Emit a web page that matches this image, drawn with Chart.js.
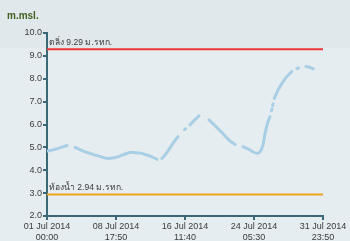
<!DOCTYPE html>
<html>
<head>
<meta charset="utf-8">
<script src="https://cdn.jsdelivr.net/npm/chart.js@4/dist/chart.umd.min.js"></script>
<style>
html,body{margin:0;padding:0;background:#e6edf0;}
#wrap{width:350px;height:241px;position:relative;}
</style>
</head>
<body>
<div id="wrap"><canvas id="levelChart" width="350" height="241"></canvas></div>
<script>
// hours since 01 Jul 2014 00:00, water level (m.msl.), null = no data
const hours = [0,13.5,27,40.4,53.9,64.7,
  75.5,94.3,115.9,137.4,161.7,180.6,196.7,212.9,223.7,237.2,250.6,264.1,277.5,296.4,301.8,
  309.9,320.7,331.5,342.3,353.0,361,
  370.6,373.3,378.6,
  385.4,396.2,409.6,423,
  436.6,447.4,458.2,471.6,482.4,493.2,506.7,517.4,
  528.2,541.7,555.2,566,574,582.1,587.5,595.6,601,603.5,
  605,606.5,607.2,608,609.2,610.5,
  612.6,622.5,633.3,644.1,659.5,667,
  673.8,677.8,687,
  698,708.8,717.7];
const level = [4.84,4.88,4.94,5.01,5.08,null,
  5.0,4.86,4.74,4.63,4.52,4.55,4.62,4.72,4.78,4.77,4.75,4.69,4.62,4.48,null,
  4.52,4.72,4.98,5.24,5.47,null,
  5.77,5.81,null,
  5.98,6.17,6.38,null,
  6.2,6.04,5.86,5.65,5.45,5.28,5.13,null,
  5.03,4.93,4.8,4.74,4.8,5.1,5.6,6.12,6.34,null,
  6.6,6.68,null,6.83,6.9,null,
  7.14,7.5,7.8,8.05,8.31,null,
  8.45,8.47,null,
  8.53,8.5,8.43];

const bankLevel = 9.29;
const bedLevel = 2.94;
const bankText = "ตลิ่ง 9.29 ม.รทก.";
const bedText = "ท้องน้ำ 2.94 ม.รทก.";
const endHour = 743.83;
const tickHours = [0,185.96,371.92,557.88,743.83];
const tickLabels = [["01 Jul 2014","00:00"],["08 Jul 2014","17:50"],["16 Jul 2014","11:40"],["24 Jul 2014","05:30"],["31 Jul 2014","23:50"]];

const FONT = "'Liberation Sans', Arial, sans-serif";
const AXIS = "#3b6877";

const pts = hours.map((h,i)=>({x:h,y:level[i]}));

// background + unit title + line labels
const decor = {
  id:"decor",
  beforeDraw(chart){
    const c = chart.ctx;
    c.save();
    c.fillStyle = "#e6edf0";
    c.fillRect(0,0,chart.width,chart.height);
    c.fillStyle = "#e1e8eb";
    c.fillRect(0,0,chart.width,48);
    c.restore();
  },
  afterDraw(chart){
    const c = chart.ctx, y = chart.scales.y, left = chart.chartArea.left;
    c.save();
    c.font = "bold 10px "+FONT;
    c.fillStyle = "#3f5f1f";
    c.textBaseline = "alphabetic";
    c.fillText("m.msl.",7,19);
    c.font = "8.5px "+FONT;
    c.fillStyle = "#3a3a3a";
    c.fillText(bankText,left+2,y.getPixelForValue(bankLevel)-4);
    c.fillText(bedText,left+2,y.getPixelForValue(bedLevel)-4);
    c.restore();
  }
};

new Chart(document.getElementById("levelChart"),{
  type:"line",
  data:{
    datasets:[
      {data:pts,borderColor:"#a8cfe5",borderWidth:3,pointRadius:0,spanGaps:false,tension:0.3,borderCapStyle:"round"},
      {data:[{x:0,y:bankLevel},{x:endHour,y:bankLevel}],borderColor:"#ee3535",borderWidth:2,pointRadius:0},
      {data:[{x:0,y:bedLevel},{x:endHour,y:bedLevel}],borderColor:"#f2a31b",borderWidth:2,pointRadius:0}
    ]
  },
  options:{
    responsive:false,
    animation:false,
    events:[],
    layout:{padding:{top:33,right:27,left:0,bottom:0}},
    plugins:{legend:{display:false},tooltip:{enabled:false}},
    scales:{
      x:{
        type:"linear",min:0,max:endHour,
        afterBuildTicks(axis){ axis.ticks = tickHours.map(v=>({value:v})); },
        afterFit(axis){ axis.height = 25; },
        grid:{drawOnChartArea:false,drawTicks:true,tickLength:4,color:AXIS,lineWidth:2},
        border:{color:AXIS,width:2},
        ticks:{
          autoSkip:false,maxRotation:0,padding:1,color:"#3a3a3a",
          font:{family:FONT,size:9,lineHeight:1.2},
          callback:(v,i)=>tickLabels[i]
        }
      },
      y:{
        min:2,max:10,
        afterFit(axis){ axis.width = 47; },
        grid:{drawOnChartArea:false,drawTicks:true,tickLength:4,color:AXIS,lineWidth:2},
        border:{color:AXIS,width:2},
        ticks:{stepSize:1,padding:1,color:"#3a3a3a",font:{family:FONT,size:9},callback:v=>v.toFixed(1)}
      }
    }
  },
  plugins:[decor]
});
</script>
</body>
</html>
